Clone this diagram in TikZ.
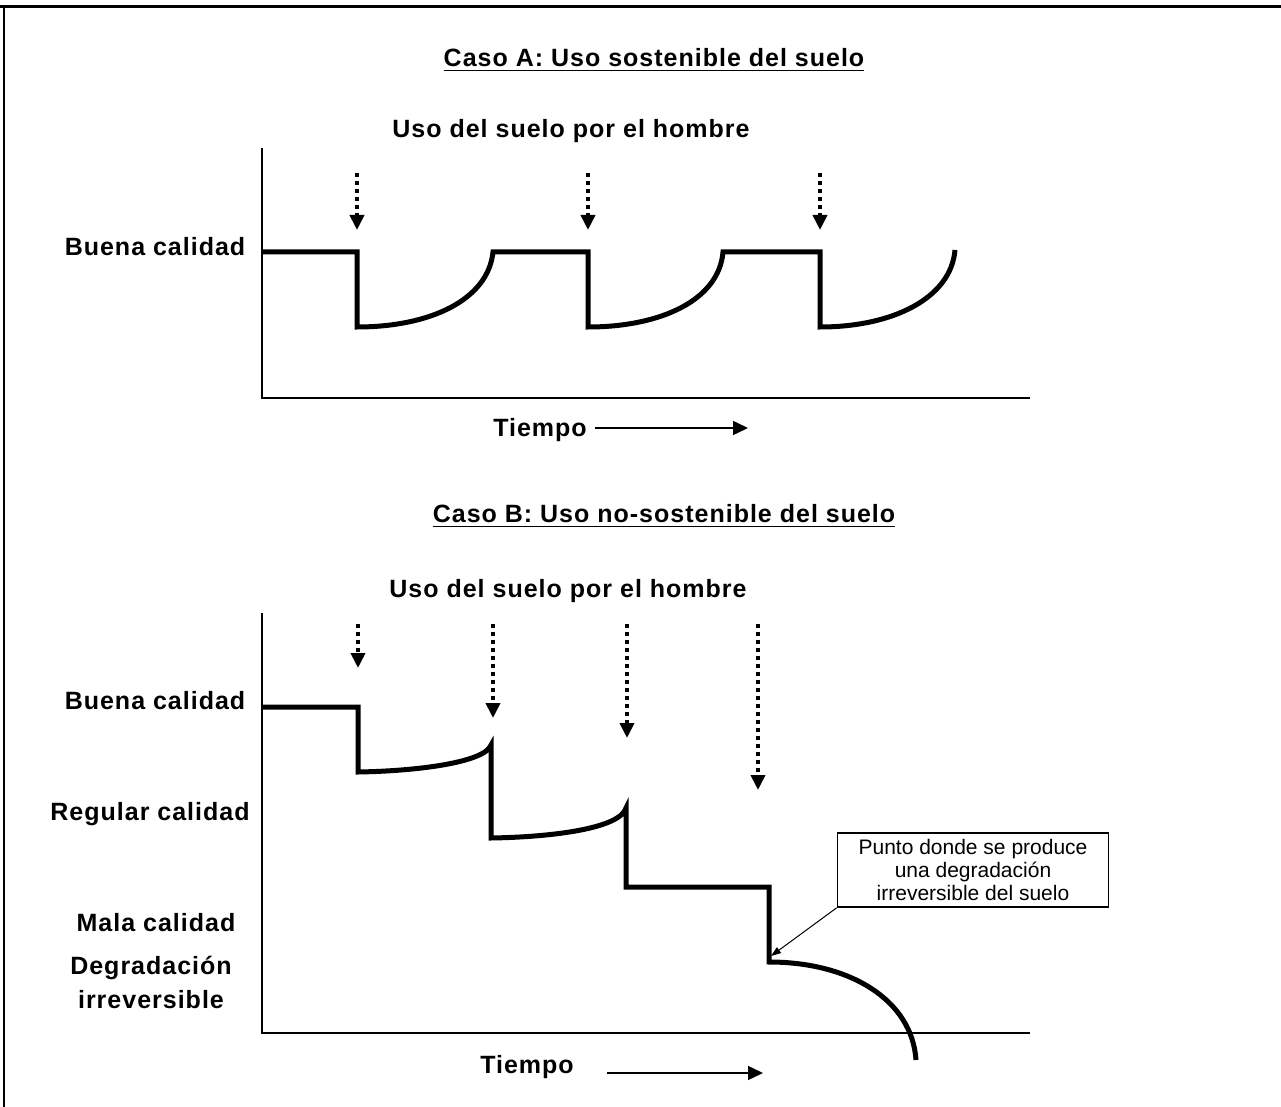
\documentclass[tikz,border=0pt]{standalone}
\usepackage{fontspec}
\setmainfont{Liberation Sans}
\newfontfamily\lblfont[LetterSpace=4.0]{Liberation Sans}
\usetikzlibrary{arrows.meta}
\tikzstyle{lbl} = [font=\lblfont\bfseries\fontsize{12.5}{17}\selectfont, inner sep=0pt, anchor=base, align=center]
\tikzstyle{nota} = [draw, line width=0.75pt, align=center, inner sep=0pt, minimum width=135.5pt, minimum height=37pt, font=\fontsize{10.5}{11.5}\selectfont]
\tikzstyle{curva} = [line width=2.5pt, line join=miter]
\tikzstyle{eje} = [line width=1pt]
\tikzstyle{uso} = [line width=2pt, dash pattern=on 2pt off 2pt, -{Triangle[length=7.5pt,width=7pt]}]
\tikzstyle{tiempo} = [line width=0.75pt, -{Triangle[length=7.5pt,width=7pt]}]

\begin{document}
\begin{tikzpicture}[x=0.5pt,y=-0.5pt]
\useasboundingbox (0,0) rectangle (1281,1107);
% marco
\draw[line width=1.5pt] (0,7) -- (1281,7);
\draw[line width=1pt] (4,7) -- (4,1107);
% Caso A
\node[lbl] (casoA) at (654,67) {\underline{Caso A: Uso sostenible del suelo}};
\node[lbl] (usoA) at (571,138) {Uso del suelo por el hombre};
\node[lbl] (buenaA) at (155,256) {Buena calidad};
\draw[eje] (262,148) -- (262,398) -- (1030,398);
\node[lbl] (tiempoA) at (540,437) {Tiempo};
\coordinate (tA1) at (595,428);
\coordinate (tA2) at (748,428);
\draw[tiempo] (tA1) -- (tA2);
\draw[uso] (357,173) -- (357,230);
\draw[uso] (588,173) -- (588,230);
\draw[uso] (820,173) -- (820,230);
\draw[curva] (262,252) -- (357,252) -- (357,327)
  .. controls (430,327) and (488,300) .. (493,252) -- (588,252) -- (588,327)
  .. controls (661,327) and (719,300) .. (723,252) -- (820,252) -- (820,327)
  .. controls (893,327) and (951,298) .. (955,250);
% Caso B
\node[lbl] (casoB) at (664,523) {\underline{Caso B: Uso no-sostenible del suelo}};
\node[lbl] (usoB) at (568,597) {Uso del suelo por el hombre};
\node[lbl] (buenaB) at (155,709) {Buena calidad};
\node[lbl] (regular) at (150,820) {Regular calidad};
\node[lbl] (mala) at (156,931) {Mala calidad};
\node[lbl] (degr) at (151,1008) {Degradaci\'on\\irreversible};
\draw[eje] (262,613) -- (262,1033) -- (1030,1033);
\node[lbl] (tiempoB) at (527,1073) {Tiempo};
\coordinate (tB1) at (607,1073);
\coordinate (tB2) at (763,1073);
\draw[tiempo] (tB1) -- (tB2);
\draw[uso] (358,624) -- (358,668);
\draw[uso] (493,624) -- (493,718);
\draw[uso] (627,624) -- (627,738);
\draw[uso] (758,624) -- (758,790);
\draw[curva] (262,707) -- (358,707) -- (358,772)
  .. controls (420,771) and (485,762) .. (491,745) -- (491,838)
  .. controls (555,837) and (620,828) .. (626,808) -- (626,887) -- (769,887) -- (769,962)
  .. controls (850,962) and (912,1000) .. (916,1060);
% nota
\node[nota] (punto) at (973,870) {Punto donde se produce\\una degradaci\'on\\irreversible del suelo};
\coordinate (quiebre) at (771,956);
\draw[line width=0.5pt, -{Triangle[length=5pt,width=3.5pt]}] (punto.south west) -- (quiebre);
\end{tikzpicture}
\end{document}
